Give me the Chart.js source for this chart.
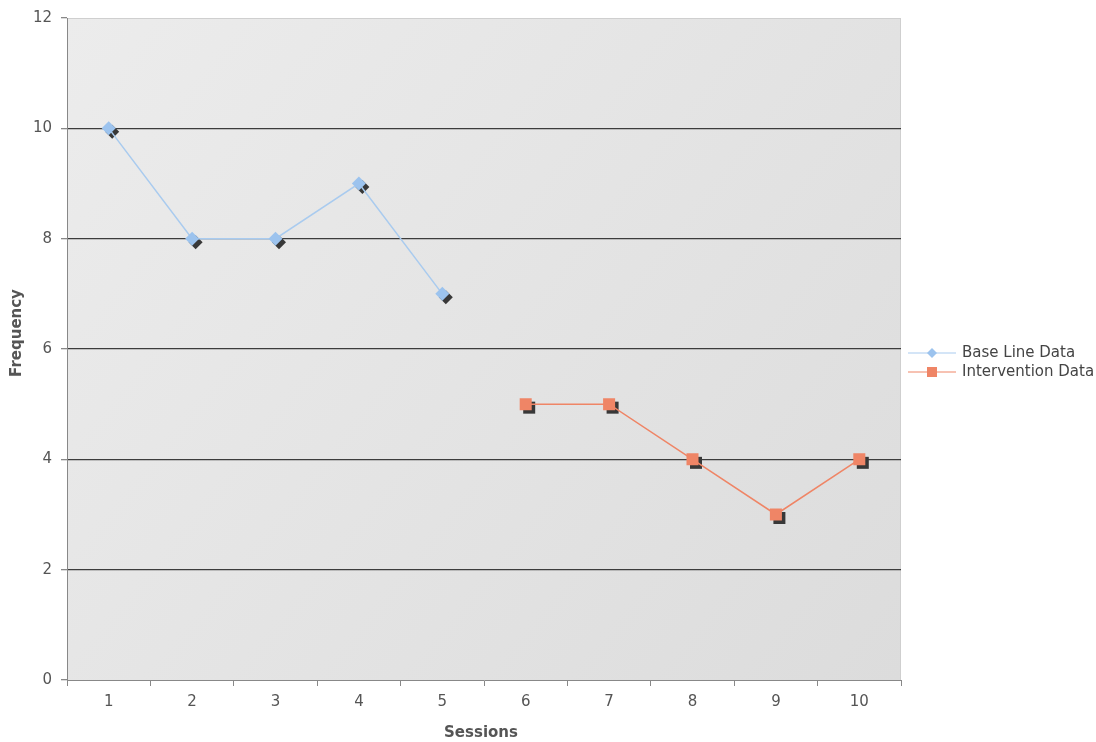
<!DOCTYPE html>
<html>
<head>
<meta charset="utf-8">
<script src="https://cdn.jsdelivr.net/npm/chart.js@4/dist/chart.umd.min.js"></script>
<style>
  html, body { margin: 0; padding: 0; background: #fff; }
  #wrap { width: 1096px; height: 742px; position: relative; }
</style>
</head>
<body>
<div id="wrap"><canvas id="grafico"></canvas></div>
<script>
// dados
const sessoes = ['1', '2', '3', '4', '5', '6', '7', '8', '9', '10'];
const linhaBase = [10, 8, 8, 9, 7, null, null, null, null, null];
const intervencao = [null, null, null, null, null, 5, 5, 4, 3, 4];
const nomesSeries = ['Base Line Data', 'Intervention Data'];
const tituloX = 'Sessions';
const tituloY = 'Frequency';

const FONTE = '"DejaVu Sans", Verdana, sans-serif';
const corAzul = '#9cc3ee';
const corAzulLinha = '#a9cbef';
const corLaranja = '#ef8566';

// fundo cinza da área do gráfico
const fundoPlugin = {
    id: 'fundo',
    beforeDraw(chart) {
        const { ctx, chartArea: a } = chart;
        const g = ctx.createLinearGradient(a.left, a.top, a.right, a.bottom);
        g.addColorStop(0, '#ececec');
        g.addColorStop(1, '#dcdcdc');
        ctx.save();
        ctx.fillStyle = g;
        ctx.fillRect(a.left, a.top, a.right - a.left, a.bottom - a.top);
        ctx.strokeStyle = '#cfcfcf';
        ctx.lineWidth = 1;
        ctx.beginPath();
        ctx.moveTo(a.left, a.top + 0.5);
        ctx.lineTo(a.right, a.top + 0.5);
        ctx.moveTo(a.right - 0.5, a.top);
        ctx.lineTo(a.right - 0.5, a.bottom);
        ctx.stroke();
        ctx.restore();
    }
};

// sombra dos marcadores
const sombraPlugin = {
    id: 'sombra',
    beforeDatasetsDraw(chart) {
        const ctx = chart.ctx;
        ctx.save();
        ctx.fillStyle = '#383838';
        chart.data.datasets.forEach((ds, i) => {
            const meta = chart.getDatasetMeta(i);
            meta.data.forEach((pt, j) => {
                if (ds.data[j] === null) return;
                const x = pt.x + 3.5, y = pt.y + 3.5;
                ctx.beginPath();
                if (ds.pointStyle === 'rectRot') {
                    ctx.moveTo(x, y - 7); ctx.lineTo(x + 7, y);
                    ctx.lineTo(x, y + 7); ctx.lineTo(x - 7, y);
                } else {
                    ctx.rect(x - 6, y - 6, 12, 12);
                }
                ctx.closePath();
                ctx.fill();
            });
        });
        ctx.restore();
    }
};

// legenda e títulos desenhados à mão
const legendaPlugin = {
    id: 'legendaManual',
    afterDraw(chart) {
        const ctx = chart.ctx;
        ctx.save();
        ctx.font = '15px ' + FONTE;
        ctx.textBaseline = 'middle';
        // série 1
        let y = 353;
        ctx.strokeStyle = corAzulLinha; ctx.lineWidth = 1;
        ctx.beginPath(); ctx.moveTo(908, y); ctx.lineTo(956, y); ctx.stroke();
        ctx.fillStyle = corAzul;
        ctx.beginPath();
        ctx.moveTo(932, y - 5); ctx.lineTo(937, y); ctx.lineTo(932, y + 5); ctx.lineTo(927, y);
        ctx.closePath(); ctx.fill();
        ctx.fillStyle = '#444';
        ctx.fillText(nomesSeries[0], 962, y);
        // série 2
        y = 372;
        ctx.strokeStyle = corLaranja;
        ctx.beginPath(); ctx.moveTo(908, y); ctx.lineTo(956, y); ctx.stroke();
        ctx.fillStyle = corLaranja;
        ctx.fillRect(927, y - 5, 10, 10);
        ctx.fillStyle = '#444';
        ctx.fillText(nomesSeries[1], 962, y);

        // títulos dos eixos
        ctx.font = 'bold 15px ' + FONTE;
        ctx.textAlign = 'center';
        ctx.fillStyle = '#555';
        ctx.fillText(tituloX, 481, 733);
        ctx.translate(17, 333);
        ctx.rotate(-Math.PI / 2);
        ctx.fillText(tituloY, 0, 0);
        ctx.restore();
    }
};

new Chart(document.getElementById('grafico'), {
    type: 'line',
    data: {
        labels: sessoes,
        datasets: [
            {
                label: nomesSeries[0],
                data: linhaBase,
                borderColor: corAzulLinha,
                backgroundColor: corAzul,
                borderWidth: 1.5,
                pointStyle: 'rectRot',
                pointRadius: 7,
                pointBorderWidth: 0,
                pointBackgroundColor: corAzul,
                tension: 0,
                spanGaps: false
            },
            {
                label: nomesSeries[1],
                data: intervencao,
                borderColor: corLaranja,
                backgroundColor: corLaranja,
                borderWidth: 1.5,
                pointStyle: 'rect',
                pointRadius: 8.5,
                pointBorderWidth: 0,
                pointBackgroundColor: corLaranja,
                tension: 0,
                spanGaps: false
            }
        ]
    },
    options: {
        responsive: true,
        maintainAspectRatio: false,
        animation: false,
        layout: { padding: { left: 0, right: 195, top: 17, bottom: 0 } },
        plugins: {
            legend: { display: false },
            tooltip: { enabled: false }
        },
        scales: {
            x: {
                offset: true,
                afterFit(scale) { scale.height = 62; },
                grid: {
                    offset: true,
                    drawOnChartArea: false,
                    tickLength: 6,
                    tickColor: '#888'
                },
                border: { color: '#888', width: 1 },
                ticks: { color: '#555', font: { family: FONTE, size: 15 }, padding: 7 }
            },
            y: {
                min: 0,
                max: 12,
                afterFit(scale) { scale.width = 67; },
                grid: {
                    color(c) {
                        const v = c.tick.value;
                        if (v === 12 || v === 0) return 'rgba(0,0,0,0)';
                        return '#3c3c3c';
                    },
                    lineWidth: 1.3,
                    tickLength: 6,
                    tickColor: '#888'
                },
                border: { color: '#888', width: 1 },
                ticks: {
                    stepSize: 2,
                    color: '#555',
                    font: { family: FONTE, size: 15 },
                    padding: 9
                }
            }
        }
    },
    plugins: [fundoPlugin, sombraPlugin, legendaPlugin]
});
</script>
</body>
</html>
